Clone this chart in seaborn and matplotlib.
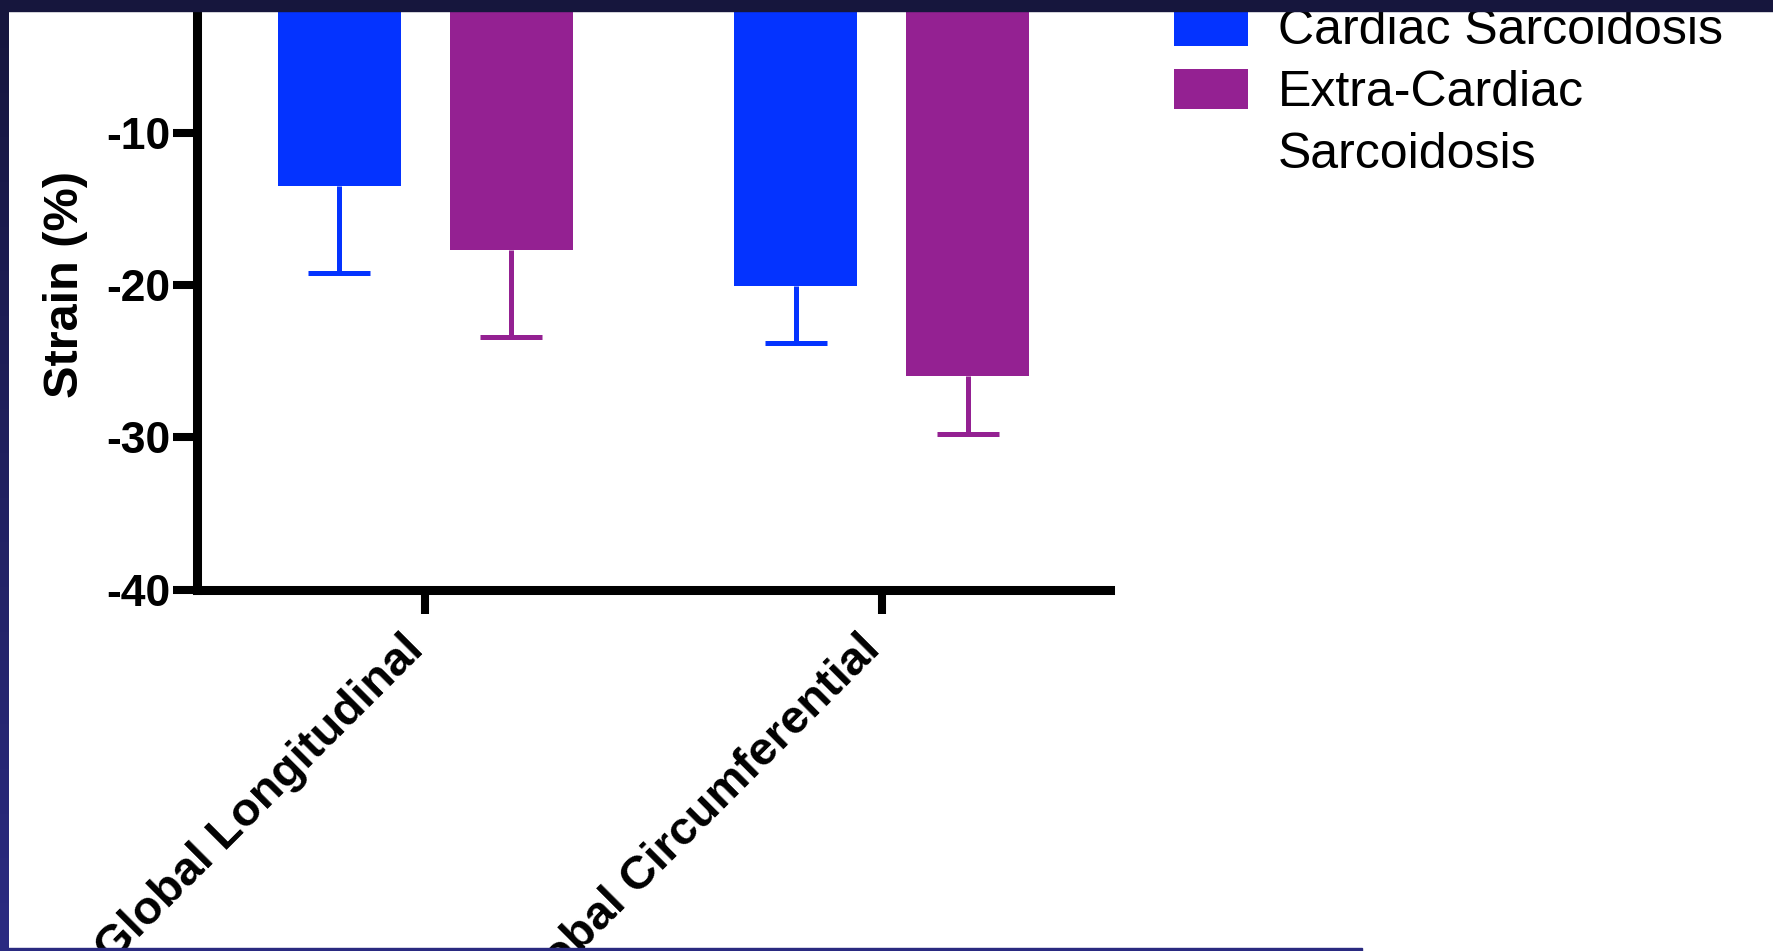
import numpy as np
import pandas as pd
import matplotlib
matplotlib.use("Agg")
import matplotlib.pyplot as plt
from matplotlib.patches import Patch, Rectangle
from matplotlib.colors import LinearSegmentedColormap
import seaborn as sns

# ── Data ──────────────────────────────────────────────────────
categories = ["Global Longitudinal", "Global Circumferential"]
groups = ["Cardiac Sarcoidosis", "Extra-Cardiac Sarcoidosis"]
cs_mean = [-13.5, -20.1]
cs_err = [5.7, 3.7]
ecs_mean = [-17.7, -26.0]
ecs_err = [5.7, 3.8]
y_ticks = [-40, -30, -20, -10, 0]
legend_labels = ["Cardiac Sarcoidosis", "Extra-Cardiac", "Sarcoidosis"]

colors = {"Cardiac Sarcoidosis": "#0433FF", "Extra-Cardiac Sarcoidosis": "#942192"}

df = pd.DataFrame({
    "measure": categories * 2,
    "group": [groups[0]] * 2 + [groups[1]] * 2,
    "strain": cs_mean + ecs_mean,
    "err": cs_err + ecs_err,
})

sns.set_style("ticks")
plt.rcParams["font.family"] = ["Liberation Sans", "DejaVu Sans"]
plt.rcParams["axes.unicode_minus"] = False
plt.rcParams["text.color"] = "black"
plt.rcParams["axes.labelcolor"] = "black"

W, H = 1774, 951
fig = plt.figure(figsize=(W / 100, H / 100), dpi=100)
fig.patch.set_facecolor("white")
# axes top runs past the figure edge (the slide is cropped)
ax = fig.add_axes([197 / W, 361.5 / H, 913 / W, 609.3 / H])

sns.barplot(data=df, x="measure", y="strain", hue="group",
            order=categories, hue_order=groups, palette=colors,
            width=0.752, gap=0.284, errorbar=None, saturation=1,
            edgecolor="none", linewidth=0, legend=False, ax=ax)

# one-sided (downward) error bars
for container, grp in zip(ax.containers, groups):
    sub = df[df["group"] == grp].set_index("measure").loc[categories]
    xs = [b.get_x() + b.get_width() / 2 for b in container]
    eb = ax.errorbar(xs, sub["strain"], yerr=[sub["err"], np.zeros(len(sub))],
                     fmt="none", ecolor=colors[grp], elinewidth=3.6,
                     capsize=22, capthick=3.6)
    eb[1][1].set_visible(False)

ax.set_xlim(-0.5, 1.5)
ax.set_ylim(-40, 0)
ax.set_yticks(y_ticks)
sns.despine(ax=ax)
for s in ["left", "bottom"]:
    ax.spines[s].set_linewidth(6.5)
    ax.spines[s].set_color("black")

ax.tick_params(axis="both", direction="out", length=17, width=5.8,
               color="black", labelcolor="black")
ax.tick_params(axis="y", labelsize=32, pad=2)
ax.tick_params(axis="x", pad=27.5)
for lab in ax.get_yticklabels():
    lab.set_fontweight("bold")
ax.set_xticks(range(len(categories)))
ax.set_xticklabels(categories, rotation=45, ha="right", va="baseline",
                   rotation_mode="anchor", fontsize=34, fontweight="bold")
ax.set_xlabel("")
ax.set_ylabel("Strain (%)", fontsize=35, fontweight="bold")
ax.yaxis.set_label_coords(-0.119, 0.501)

handles = [Patch(facecolor=colors[groups[0]], edgecolor="none"),
           Patch(facecolor=colors[groups[1]], edgecolor="none"),
           Patch(facecolor="none", edgecolor="none")]
ax.legend(handles, legend_labels, loc="upper left",
          bbox_to_anchor=(1174 / W, 1 - 6.5 / H), bbox_transform=fig.transFigure,
          frameon=False, fontsize=36, handlelength=1.48, handleheight=0.85,
          handletextpad=0.6, labelspacing=0.3, borderpad=0, borderaxespad=0)

# ── slide frame around the crop ───────────────────────────────
fig.add_artist(Rectangle((0, 1 - 11 / H), 1, 11 / H, transform=fig.transFigure,
                         color="#16163d", zorder=10))
fig.add_artist(Rectangle((0, 0), 1362 / W, 3.5 / H, transform=fig.transFigure,
                         color="#2a2a80", zorder=10))
band = fig.add_axes([0, 0, 9 / W, 1], zorder=9)
band_cmap = LinearSegmentedColormap.from_list("band", ["#16163d", "#2b2b82"])
band.imshow(np.linspace(0, 1, 256).reshape(-1, 1), aspect="auto", cmap=band_cmap)
band.axis("off")

fig.savefig("out.png", dpi=100)
